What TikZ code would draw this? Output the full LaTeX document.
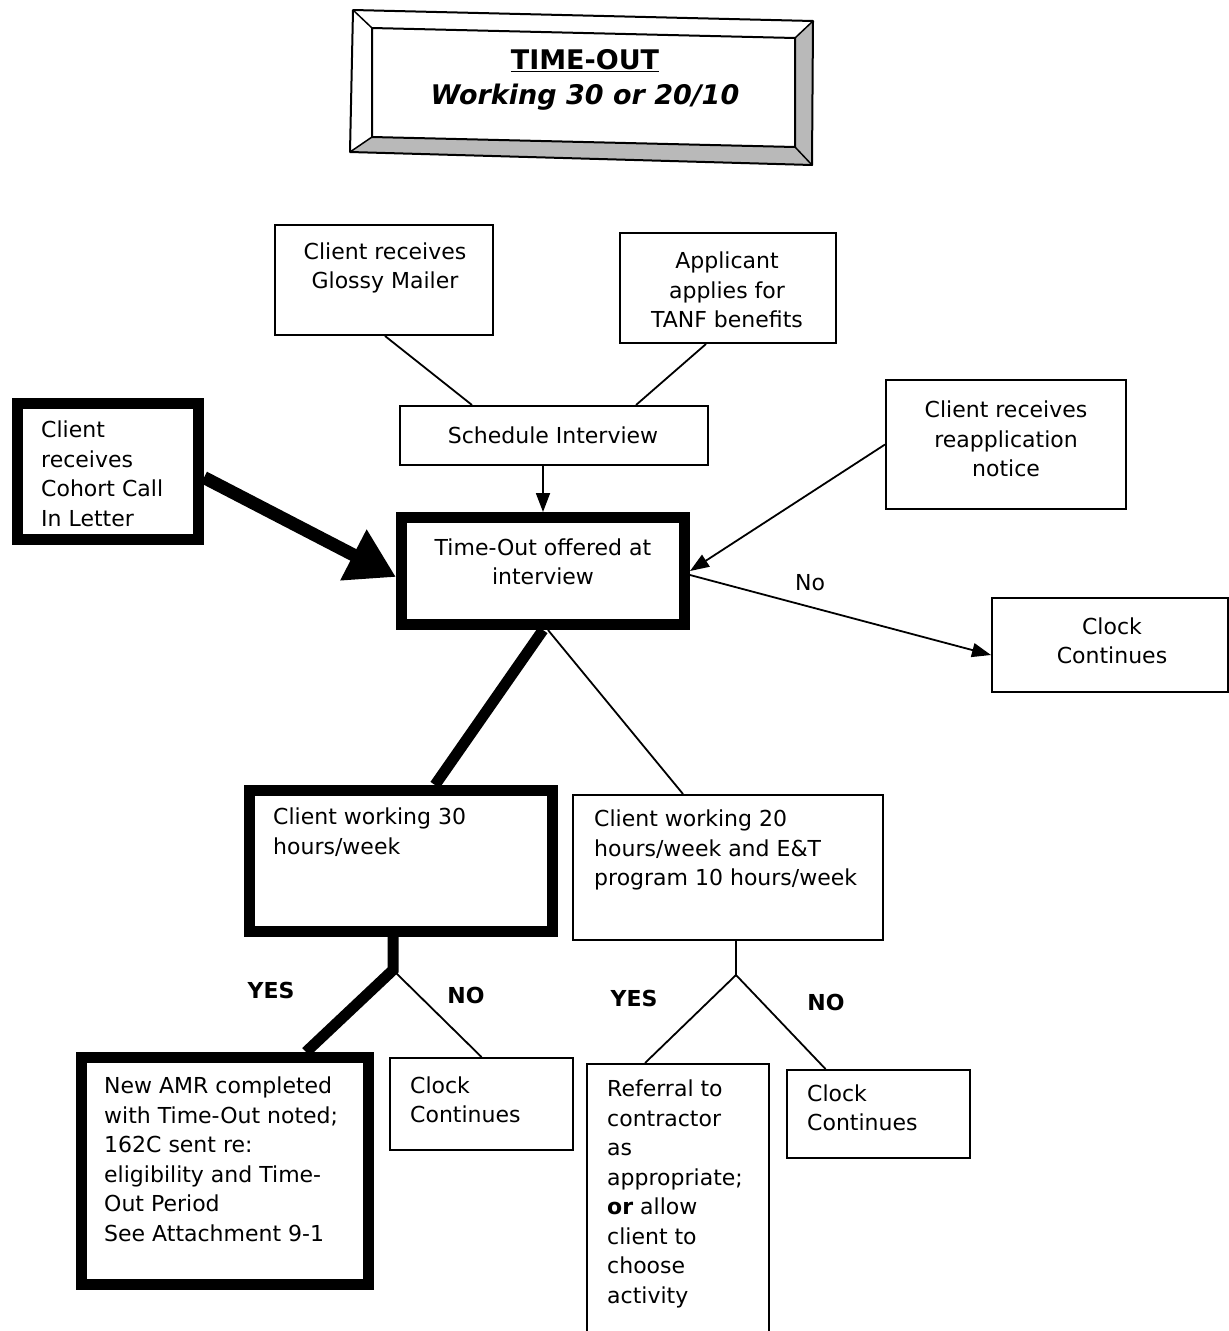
\documentclass[tikz,border=0pt]{standalone}
\usepackage{fontspec}
\setmainfont{DejaVu Sans}
\usetikzlibrary{arrows.meta,calc}
\begin{document}
\begin{tikzpicture}[x=1pt,y=-1pt,
  thinbox/.style={draw,line width=2pt,inner sep=0pt},
  thickbox/.style={draw,line width=11pt,inner sep=0pt},
  txt/.style={align=left,anchor=west,inner sep=0pt,font=\fontsize{22}{29.5}\selectfont},
  ctxt/.style={align=center,inner sep=0pt,font=\fontsize{22}{29.5}\selectfont},
  lab/.style={inner sep=0pt,font=\fontsize{22}{26}\selectfont\bfseries},
  conn/.style={line width=1.8pt},
  arr/.style={conn,-{Triangle[length=19pt,width=14pt]}},
  heavy/.style={line width=11pt},
]
\useasboundingbox (0,0) rectangle (1229,1331);
\clip (0,0) rectangle (1229,1331);

% title plate with bevelled frame
\coordinate (oTL) at (353,10);  \coordinate (oTR) at (813,21);
\coordinate (oBR) at (812,165); \coordinate (oBL) at (350,152);
\coordinate (iTL) at (372,28);  \coordinate (iTR) at (795,38);
\coordinate (iBR) at (795,147); \coordinate (iBL) at (372,137);
\fill[gray!55] (iTR) -- (oTR) -- (oBR) -- (iBR) -- cycle;
\fill[gray!55] (iBL) -- (iBR) -- (oBR) -- (oBL) -- cycle;
\draw[line width=2pt,line join=round] (oTL) -- (oTR) -- (oBR) -- (oBL) -- cycle;
\draw[line width=2pt,line join=round] (iTL) -- (iTR) -- (iBR) -- (iBL) -- cycle;
\draw[line width=1.5pt] (oTL) -- (iTL) (oTR) -- (iTR) (oBR) -- (iBR) (oBL) -- (iBL);
\node[align=center,inner sep=0pt,font=\fontsize{27}{35}\selectfont\bfseries] (title) at (585,80)
  {\underline{TIME-OUT}\\\textit{Working 30 or 20/10}};

% boxes
\node[thinbox,minimum width=218pt,minimum height=110pt] (mailer) at (384,280) {};
\node[thinbox,minimum width=216pt,minimum height=110pt] (apply) at (728,288) {};
\node[thinbox,minimum width=308pt,minimum height=59pt] (sched) at (554,435.5) {};
\node[thickbox,minimum width=181pt,minimum height=136pt] (cohort) at (108,471.5) {};
\node[thickbox,minimum width=283pt,minimum height=107pt] (timeout) at (543,571) {};
\node[thinbox,minimum width=240pt,minimum height=129pt] (reapp) at (1006,444.5) {};
\node[thinbox,minimum width=236pt,minimum height=94pt] (clockR) at (1110,645) {};
\node[thickbox,minimum width=303pt,minimum height=141pt] (c30) at (401,861) {};
\node[thinbox,minimum width=310pt,minimum height=145pt] (c20) at (728,867.5) {};
\node[thickbox,minimum width=287pt,minimum height=227pt] (amr) at (225,1171) {};
\node[thinbox,minimum width=183pt,minimum height=92pt] (clockM) at (481.5,1104) {};
\node[thinbox,minimum width=182pt,minimum height=281pt] (referral) at (678,1204.5) {};
\node[thinbox,minimum width=183pt,minimum height=88pt] (clockB) at (878.5,1114) {};

% box texts
\node[ctxt] (mailer-t) at (385,268) {Client receives\\Glossy Mailer};
\node[ctxt] (apply-t) at (727,290) {Applicant\\applies for\\TANF benefits};
\node[ctxt] (sched-t) at (553,435) {Schedule Interview};
\node[txt] (cohort-t) at (41,474) {Client\\receives\\Cohort Call\\In Letter};
\node[ctxt] (timeout-t) at (543,562) {Time-Out offered at\\interview};
\node[ctxt] (reapp-t) at (1006,439) {Client receives\\reapplication\\notice};
\node[ctxt] (clockR-t) at (1112,641) {Clock\\Continues};
\node[txt] (c30-t) at (273,832) {Client working 30\\hours/week};
\node[txt] (c20-t) at (594,850) {Client working 20\\hours/week and E\&T\\program 10 hours/week};
\node[txt] (amr-t) at (104,1159.5) {New AMR completed\\with Time-Out noted;\\162C sent re:\\eligibility and Time-\\Out Period\\See Attachment 9-1};
\node[txt] (clockM-t) at (410,1100) {Clock\\Continues};
\node[txt] (referral-t) at (607,1194) {Referral to\\contractor\\as\\appropriate;\\\textbf{or} allow\\client to\\choose\\activity};
\node[txt] (clockB-t) at (807,1108) {Clock\\Continues};

% junction points
\coordinate (j30) at (393,970);
\coordinate (j20) at (736,975);

% connectors
\draw[conn] ([xshift=1pt]mailer.south) -- ([xshift=73pt]sched.north west);
\draw[conn] ([xshift=87pt]apply.south west) -- ([xshift=237pt]sched.north west);
\draw[arr] (timeout.north |- sched.south) -- (timeout.north);
\draw[line width=13pt,-{Triangle[length=48pt,width=54pt]}]
  ([yshift=-6pt]cohort.east) -- ([yshift=-6pt]timeout.west);
\draw[arr] (reapp.west) -- (timeout.east);
\draw[arr] ([yshift=-4pt]timeout.east) -- ([yshift=-10pt]clockR.west);
\node[lab,font=\fontsize{22}{26}\selectfont] (no-top) at (810,583) {No};

\draw[heavy] (timeout.south) -- ([xshift=34pt]c30.north);
\draw[conn] ([xshift=5pt]timeout.south) -- ([xshift=-45pt]c20.north);

\draw[heavy,line join=miter] ([xshift=-8pt]c30.south) -- (j30) -- ([xshift=81pt]amr.north);
\draw[conn] (j30) -- (clockM.north);
\draw[conn] ([xshift=8pt]c20.south) -- (j20) -- ([xshift=-33pt]referral.north);
\draw[conn] (j20) -- ([xshift=-53pt]clockB.north);

\node[lab] (yes30) at (271,990) {YES};
\node[lab] (no30) at (466,995) {NO};
\node[lab] (yes20) at (634,998) {YES};
\node[lab] (no20) at (826,1002) {NO};
\end{tikzpicture}
\end{document}
